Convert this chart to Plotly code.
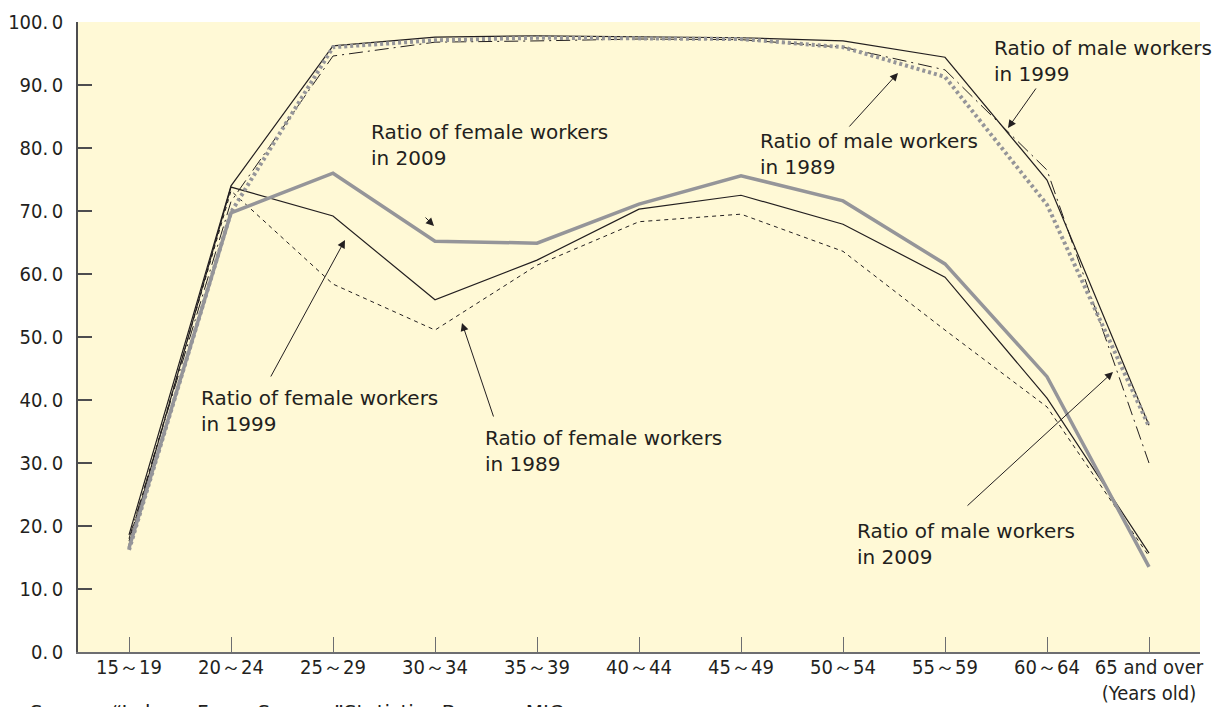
import plotly.graph_objects as go

categories = ["15～19", "20～24", "25～29", "30～34", "35～39", "40～44",
              "45～49", "50～54", "55～59", "60～64", "65 and over<br>(Years old)"]

female_2009 = [16.5, 69.7, 76.0, 65.2, 64.9, 71.1, 75.6, 71.6, 61.6, 43.7, 13.5]
female_1999 = [17.0, 73.8, 69.2, 55.9, 62.2, 70.3, 72.5, 67.9, 59.5, 40.3, 15.7]
female_1989 = [17.6, 73.2, 58.4, 51.1, 61.4, 68.3, 69.5, 63.6, 51.1, 38.9, 15.2]
male_2009 = [16.2, 69.8, 96.0, 97.1, 97.5, 97.4, 97.3, 96.0, 91.3, 71.0, 35.8]
male_1999 = [18.6, 74.0, 96.2, 97.6, 97.8, 97.6, 97.5, 97.0, 94.4, 74.9, 36.0]
male_1989 = [18.0, 71.5, 94.6, 96.8, 97.0, 97.3, 97.2, 96.0, 92.4, 76.5, 30.0]

y_ticks = [0, 10, 20, 30, 40, 50, 60, 70, 80, 90, 100]
y_tick_labels = ["0.\u20090", "10.\u20090", "20.\u20090", "30.\u20090", "40.\u20090", "50.\u20090",
                 "60.\u20090", "70.\u20090", "80.\u20090", "90.\u20090", "100.\u20090"]

x = list(range(len(categories)))

fig = go.Figure()

def add(vals, color, width, dash, name):
    fig.add_trace(go.Scatter(x=x, y=vals, mode="lines", name=name,
                             line=dict(color=color, width=width, dash=dash),
                             hoverinfo="skip"))

add(female_1989, "#231f20", 1, "4px,4px", "Female 1989")
add(male_1989, "#231f20", 1, "14px,5px,2px,5px", "Male 1989")
add(female_1999, "#231f20", 1.2, "solid", "Female 1999")
add(male_1999, "#231f20", 1.2, "solid", "Male 1999")
add(male_2009, "#959599", 4, "3px,3px", "Male 2009")
add(female_2009, "#959599", 3.5, "solid", "Female 2009")

label_font = dict(family="DejaVu Sans, Arial, sans-serif", size=20, color="#231f20")

# page offset of the body (8px default margin) is compensated in the layout size
OFF = 8
L, R, T, B = 78, 1200, 22, 652
def px_x(px):
    return -0.5 + (px - L) / (R - L) * 11
def px_y(py):
    return (B - py) / (B - T) * 100

labels = [
    ("Ratio of female workers<br>in 2009", 369, 118),
    ("Ratio of female workers<br>in 1999", 199, 384),
    ("Ratio of female workers<br>in 1989", 483, 424),
    ("Ratio of male workers<br>in 1989", 758, 127),
    ("Ratio of male workers<br>in 1999", 992, 34),
    ("Ratio of male workers<br>in 2009", 855, 517),
]
for text, lx, ty in labels:
    fig.add_annotation(x=px_x(lx), y=px_y(ty), xref="x", yref="y", text=text,
                       showarrow=False, xanchor="left", yanchor="top", align="left",
                       font=label_font)

arrows = [
    ((424, 216), (434, 226)),
    ((270, 378), (345, 240)),
    ((494, 418), (462, 323)),
    ((848, 128), (898, 73)),
    ((1037, 87), (1008, 128)),
    ((966, 507), (1113, 372)),
]
for (tx, ty), (hx, hy) in arrows:
    fig.add_annotation(x=px_x(hx), y=px_y(hy), xref="x", yref="y",
                       ax=px_x(tx), ay=px_y(ty), axref="x", ayref="y",
                       text="", showarrow=True, arrowhead=2, arrowsize=1.6,
                       arrowwidth=1, arrowcolor="#231f20")

fig.add_annotation(x=(28 - L) / (R - L), y=-(698 - B) / (B - T), xref="paper", yref="paper",
                   text="Source: “Labour Force Survey ”Statistics Bureau, MIC",
                   showarrow=False, xanchor="left", yanchor="top",
                   font=dict(family="DejaVu Sans, Arial, sans-serif", size=20, color="#231f20"))

tick_font = dict(family="Liberation Sans Narrow, DejaVu Sans Condensed, Arial Narrow, sans-serif",
                 size=20, color="#231f20")

W, H = 1225 - OFF, 707 - OFF
fig.update_layout(
    width=W, height=H,
    margin=dict(l=L - OFF, r=1225 - R, t=T - OFF, b=707 - B),
    paper_bgcolor="white",
    plot_bgcolor="#FFF9D6",
    showlegend=False,
    xaxis=dict(range=[-0.5, 10.5], tickmode="array", tickvals=x, ticktext=categories,
               ticks="inside", ticklen=15, tickcolor="#6d6e71", tickwidth=1,
               showline=True, linecolor="#6d6e71", linewidth=1.5,
               showgrid=False, zeroline=False, tickfont=tick_font, fixedrange=True,
               automargin=False, ticklabelstandoff=-4),
    yaxis=dict(range=[0, 100], tickmode="array", tickvals=y_ticks, ticktext=y_tick_labels,
               ticks="inside", ticklen=14, tickcolor="#4d4d4f", tickwidth=1.5,
               showline=True, linecolor="#4d4d4f", linewidth=1.5,
               showgrid=False, zeroline=False, tickfont=tick_font, ticklabelstandoff=9,
               fixedrange=True, automargin=False),
)

fig.write_html("out.html")
